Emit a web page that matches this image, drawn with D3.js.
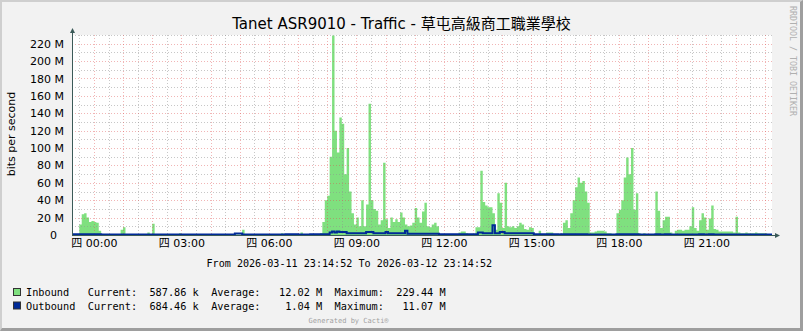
<!DOCTYPE html>
<html>
<head>
<meta charset="utf-8">
<title>Tanet ASR9010 - Traffic</title>
<script src="https://d3js.org/d3.v7.min.js"></script>
<style>
  body { margin: 0; background: #f2f2f2; }
  svg { display: block; }
  text { font-family: 'DejaVu Sans', 'Noto Sans CJK TC', sans-serif; fill: #000; }
  .mono { font-family: 'DejaVu Sans Mono', monospace; white-space: pre; }
  .pre { white-space: pre; }
</style>
</head>
<body>
<div id="graph"></div>
<script>
// 5 minute samples (Mbit/s) from 2026-03-11 23:14:52 to 2026-03-12 23:14:52
const startTime = Date.UTC(2026, 2, 11, 23, 14, 52);
const endTime = Date.UTC(2026, 2, 12, 23, 14, 52);
const stepSeconds = 300;

const inbound = [
  1, 1, 1, 12, 24, 25, 20, 15, 16, 15, 14, 5,
  0.6, 0.6, 0.6, 0.6, 0.6, 0.6, 0.6, 0.6, 6, 9, 0.6, 0.6,
  0.6, 0.6, 0.6, 0.6, 0.6, 0.6, 0.6, 3, 0.6, 13, 0.6, 0.6,
  0.6, 0.6, 0.6, 0.6, 0.6, 0.6, 0.6, 0.6, 2, 0.5, 0.5, 0.5,
  0.5, 0.5, 0.5, 0.5, 0.5, 0.5, 0.5, 0.5, 0.5, 0.5, 0.5, 0.5,
  0.5, 0.5, 0.5, 0.5, 0.5, 0.5, 0.5, 0.5, 0.5, 0.5, 6, 0.5,
  0.5, 0.5, 0.5, 0.5, 0.5, 0.5, 0.5, 0.5, 0.5, 0.5, 0.5, 0.5,
  0.5, 0.5, 2, 0.5, 0.5, 0.5, 0.5, 0.5, 0.5, 0.5, 3, 0.5,
  0.5, 0.5, 0.5, 0.5, 0.5, 0.5, 2, 15, 40, 45, 90, 229.44,
  120, 95, 135, 128, 70, 100, 50, 25, 12, 20, 10, 40,
  10, 35, 151, 40, 30, 28, 12, 17, 83, 18, 8, 20,
  15, 18, 15, 26, 20, 12, 10, 11, 14, 31, 20, 14,
  27, 37, 10, 9, 12, 14, 10, 1, 0.6, 0.6, 0.6, 0.6,
  0.6, 0.6, 0.6, 3, 4, 4, 2, 0.6, 0.6, 1, 9, 9,
  74, 38, 34, 32, 32, 25, 6, 48, 37, 8, 60, 10,
  9, 10, 8, 10, 14, 12, 7, 6, 9, 8, 1, 0.6,
  5, 0.6, 0.6, 3, 3, 3, 0.6, 0.6, 0.6, 0.6, 14, 17,
  8, 25, 40, 55, 66, 60, 62, 50, 37, 3, 3, 4,
  5, 5, 5, 4, 2, 2, 1, 1, 25, 29, 40, 66,
  89, 70, 100, 29, 48, 2, 1, 2, 1, 0.6, 0.6, 0.6,
  50, 28, 8, 17, 21, 21, 3, 1, 5, 6, 6, 5,
  6, 6, 10, 32, 8, 5, 17, 25, 20, 6, 19, 34,
  7, 6, 4, 4, 4, 4, 4, 4, 3, 21, 3, 2,
  2, 3, 2, 2, 2, 3, 2, 2, 2, 2, 1, 0.59
];

const outbound = [
  1, 1, 1, 0.8, 0.8, 0.8, 0.8, 0.8, 0.8, 0.8, 0.8, 0.8,
  0.7, 0.7, 0.7, 0.7, 0.7, 0.7, 0.7, 0.7, 0.7, 0.7, 0.7, 0.7,
  0.7, 0.7, 0.7, 0.7, 0.7, 0.7, 0.7, 0.7, 0.7, 0.7, 0.7, 0.7,
  0.7, 0.7, 0.7, 0.7, 0.7, 0.7, 0.7, 0.7, 0.7, 0.7, 0.7, 0.7,
  0.7, 0.7, 0.7, 0.7, 0.7, 0.7, 0.7, 0.7, 0.7, 0.7, 0.7, 0.7,
  0.7, 0.7, 0.7, 0.7, 0.7, 0.7, 0.7, 1.6, 1.6, 1.6, 0.7, 0.7,
  0.7, 0.7, 0.7, 0.7, 0.7, 0.7, 0.7, 0.7, 0.7, 0.7, 0.7, 0.7,
  0.7, 0.7, 0.7, 0.7, 1, 1, 1, 1, 1, 0.7, 0.7, 0.7,
  0.7, 0.7, 1, 1, 1, 1, 1, 1, 1, 1, 3, 4,
  3, 4, 3.5, 3.5, 3.5, 2, 2, 2, 2, 2, 2, 2,
  2, 3.5, 3.5, 3.5, 2, 2, 2, 2, 2, 3.5, 2, 2,
  2, 2, 2, 2, 2, 5, 1.5, 1.5, 1.5, 1.5, 1.5, 1.5,
  1.5, 1.5, 1.5, 1.5, 1.5, 1.5, 1.5, 1, 1, 1, 1, 1,
  1, 1, 1, 1, 1, 1, 1, 1, 1, 1, 1, 3,
  3, 2, 2, 2, 2, 11.07, 2, 2, 3.5, 3.5, 2, 2,
  2, 2, 2, 2, 2, 2, 2, 2, 2, 2, 0.8, 0.8,
  0.8, 0.8, 0.8, 0.9, 0.8, 0.8, 0.8, 0.8, 0.7, 0.8, 0.8, 0.8,
  0.8, 0.9, 0.9, 0.8, 0.8, 0.8, 0.8, 0.8, 0.7, 0.7, 0.7, 0.7,
  0.7, 0.7, 0.7, 0.7, 0.7, 0.7, 0.7, 0.7, 0.8, 0.8, 0.8, 0.9,
  0.9, 0.8, 0.9, 0.8, 0.8, 0.7, 0.7, 0.7, 0.7, 0.7, 0.7, 0.7,
  0.8, 0.8, 0.7, 0.7, 0.8, 0.8, 0.7, 0.7, 0.7, 0.7, 0.7, 0.7,
  0.7, 0.7, 0.7, 0.7, 0.7, 0.7, 0.8, 0.8, 0.7, 0.7, 0.8, 0.8,
  0.7, 0.7, 0.7, 0.7, 0.7, 0.7, 0.7, 0.7, 0.7, 0.7, 0.7, 0.7,
  0.7, 0.7, 0.7, 0.7, 0.7, 0.7, 0.7, 0.7, 0.7, 0.7, 0.7, 0.68
];

const yTicks = [0, 20, 40, 60, 80, 100, 120, 140, 160, 180, 200, 220];
const yTickLabels = ['0  ', '20 M', '40 M', '60 M', '80 M', '100 M', '120 M', '140 M', '160 M', '180 M', '200 M', '220 M'];
const xTickHours = [0, 3, 6, 9, 12, 15, 18, 21];
const xTickLabels = ['四 00:00', '四 03:00', '四 06:00', '四 09:00', '四 12:00', '四 15:00', '四 18:00', '四 21:00'];

const seriesNames = ['Inbound', 'Outbound'];
const currentLabels = ['587.86 k', '684.46 k'];
const averageLabels = ['12.02 M', '1.04 M'];
const maximumLabels = ['229.44 M', '11.07 M'];

const titleText = 'Tanet ASR9010 - Traffic - 草屯高級商工職業學校';
const periodText = 'From 2026-03-11 23:14:52 To 2026-03-12 23:14:52';

const TrafficGraph = {
  width: 803,
  height: 331,
  plot: { left: 72, right: 772, top: 35, bottom: 235 },
  colors: { inbound: '#7fe07f', outbound: '#002a97', axis: '#3b5a58', grid: 'rgba(143,143,143,0.5)', mgrid: 'rgba(222,79,79,0.42)' },

  render: function() {
    const W = this.width, H = this.height, p = this.plot, c = this.colors;

    const svg = d3.select('#graph').append('svg')
      .attr('width', W).attr('height', H)
      .attr('viewBox', `0 0 ${W} ${H}`);

    // Frame + background
    svg.append('rect').attr('width', W).attr('height', H).attr('fill', '#9e9e9e');
    svg.append('path').attr('d', `M0,0H${W}L${W - 3},2H2V${H - 3}L0,${H}Z`).attr('fill', '#cfcfcf');
    svg.append('rect').attr('x', 2).attr('y', 2).attr('width', W - 5).attr('height', H - 5).attr('fill', '#f2f2f2');

    const x = d3.scaleUtc().domain([startTime, endTime]).range([p.left, p.right]);
    const y = d3.scaleLinear().domain([0, 230]).range([p.bottom, p.top]);

    // Canvas
    svg.append('rect').attr('x', p.left).attr('y', p.top)
      .attr('width', p.right - p.left).attr('height', p.bottom - p.top).attr('fill', '#fff');

    const toPoints = arr => {
      const pts = arr.map((v, i) => ({ t: startTime + i * stepSeconds * 1000, v }));
      pts.push({ t: endTime, v: arr[arr.length - 1] });
      return pts;
    };

    // Inbound area
    svg.append('path')
      .datum(toPoints(inbound))
      .attr('fill', c.inbound)
      .attr('d', d3.area().x(d => x(d.t)).y0(y(0)).y1(d => y(d.v)).curve(d3.curveStepAfter));

    // Grid
    const px = v => Math.round(v) + 0.5;
    const grid = svg.append('g').attr('fill', 'none').attr('stroke-width', 1).attr('stroke-dasharray', '1,2');
    const minorH = d3.range(10, 231, 20);
    const majorH = yTicks.slice(1);
    const minorV = d3.utcMinute.every(30).range(new Date(startTime), new Date(endTime)).filter(d => d.getUTCMinutes() === 30);
    const majorV = d3.utcHour.range(new Date(startTime), new Date(endTime));

    grid.selectAll('.gh').data(minorH).enter().append('line')
      .attr('x1', p.left).attr('x2', p.right).attr('y1', d => px(y(d))).attr('y2', d => px(y(d)))
      .attr('stroke', c.grid);
    grid.selectAll('.gv').data(minorV).enter().append('line')
      .attr('y1', p.top).attr('y2', p.bottom).attr('x1', d => px(x(d))).attr('x2', d => px(x(d)))
      .attr('stroke', c.grid);
    grid.selectAll('.mh').data(majorH).enter().append('line')
      .attr('x1', p.left).attr('x2', p.right).attr('y1', d => px(y(d))).attr('y2', d => px(y(d)))
      .attr('stroke', c.mgrid);
    grid.selectAll('.mv').data(majorV).enter().append('line')
      .attr('y1', p.top).attr('y2', p.bottom).attr('x1', d => px(x(d))).attr('x2', d => px(x(d)))
      .attr('stroke', c.mgrid);

    // Outbound line
    svg.append('path')
      .datum(toPoints(outbound))
      .attr('fill', 'none')
      .attr('stroke', c.outbound)
      .attr('stroke-width', 2)
      .attr('d', d3.line().x(d => x(d.t)).y(d => y(d.v)).curve(d3.curveStepAfter));

    // Axes with arrows
    const ax = svg.append('g');
    ax.append('line').attr('x1', p.left + 0.5).attr('x2', p.left + 0.5).attr('y1', p.bottom + 1).attr('y2', p.top - 3)
      .attr('stroke', c.axis);
    ax.append('line').attr('x1', p.left).attr('x2', p.right + 4).attr('y1', p.bottom + 0.5).attr('y2', p.bottom + 0.5)
      .attr('stroke', c.axis);
    ax.append('path').attr('fill', c.axis)
      .attr('d', `M${p.left - 2},${p.top - 2}L${p.left + 3},${p.top - 2}L${p.left + 0.5},${p.top - 7}Z`);
    ax.append('path').attr('fill', c.axis)
      .attr('d', `M${p.right + 3},${p.bottom - 2}L${p.right + 3},${p.bottom + 3}L${p.right + 8},${p.bottom + 0.5}Z`);

    // Y axis labels
    const yAxis = d3.axisLeft(y).tickValues(yTicks).tickSize(0).tickPadding(8)
      .tickFormat((d, i) => yTickLabels[i]);
    const yg = svg.append('g').attr('transform', `translate(${p.left},0)`).call(yAxis);
    yg.select('.domain').remove();
    yg.selectAll('text').attr('class', 'pre').style('font-family', "'DejaVu Sans', sans-serif").style('font-size', '11px').attr('fill', '#000');

    // X axis labels
    const xTicks = xTickHours.map(h => Date.UTC(2026, 2, 12, h, 0, 0));
    const xAxis = d3.axisBottom(x).tickValues(xTicks).tickSize(0).tickPadding(4.5)
      .tickFormat((d, i) => xTickLabels[i]);
    const xg = svg.append('g').attr('transform', `translate(0,${p.bottom})`).call(xAxis);
    xg.select('.domain').remove();
    xg.selectAll('text').style('font-family', "'DejaVu Sans', 'Noto Sans CJK TC', sans-serif").style('font-size', '11px').attr('fill', '#000');

    // Title
    svg.append('text').attr('x', W / 2).attr('y', 29).attr('text-anchor', 'middle')
      .attr('font-size', 15).text(titleText);

    // Vertical label
    svg.append('text').attr('transform', 'translate(15,134) rotate(-90)').attr('text-anchor', 'middle')
      .attr('font-size', 11).text('bits per second');

    // Watermark
    svg.append('text').attr('class', 'mono').attr('transform', 'translate(790,6) rotate(90)')
      .attr('font-size', 8).attr('textLength', 110).attr('lengthAdjust', 'spacingAndGlyphs')
      .style('fill', '#b0b0b0').text('RRDTOOL / TOBI OETIKER');

    // Period
    svg.append('text').attr('class', 'mono').attr('x', 206.5).attr('y', 267).attr('font-size', 10.1).text(periodText);

    // Legend
    const legendColors = [c.inbound, c.outbound];
    seriesNames.forEach((name, i) => {
      const yy = 296 + i * 13.5;
      svg.append('rect').attr('x', 13.5).attr('y', yy - 7.5).attr('width', 7).attr('height', 7)
        .attr('fill', legendColors[i]).attr('stroke', '#333').attr('stroke-width', 1);
      const line = name.padEnd(10) + 'Current:' + currentLabels[i].padStart(10) +
        '  Average:' + averageLabels[i].padStart(10) + '  Maximum:' + maximumLabels[i].padStart(10);
      svg.append('text').attr('class', 'mono').attr('x', 26).attr('y', yy).attr('font-size', 10.25).text(line);
    });

    svg.append('text').attr('class', 'mono').attr('x', 308.5).attr('y', 323).attr('font-size', 7)
      .style('fill', '#a0a0a0').text('Generated by Cacti®');
  }
};

document.addEventListener('DOMContentLoaded', () => TrafficGraph.render());
</script>
</body>
</html>
